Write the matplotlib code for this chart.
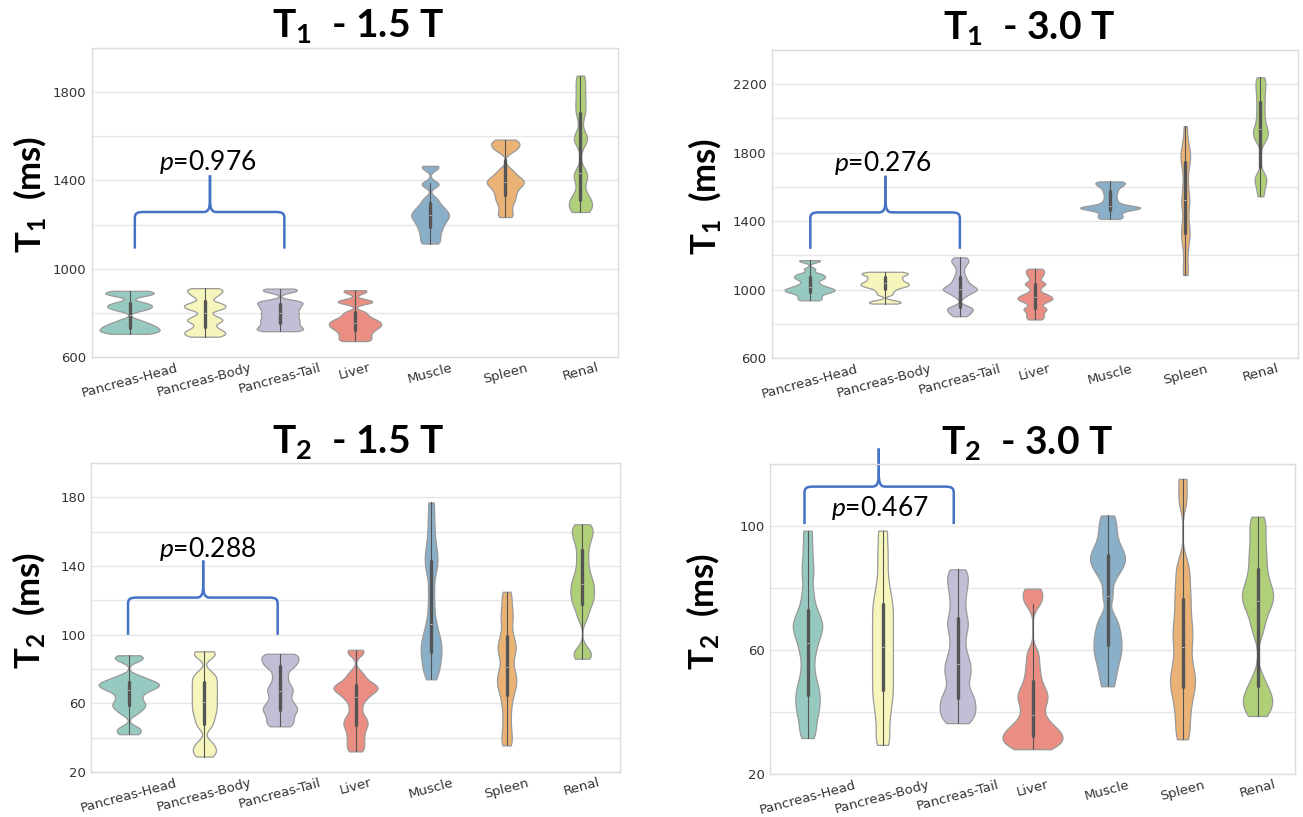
import numpy as np
import pandas as pd
import matplotlib
matplotlib.use("Agg")
import matplotlib.pyplot as plt
import seaborn as sns
from matplotlib.path import Path
from matplotlib.patches import PathPatch

categories = ["Pancreas-Head", "Pancreas-Body", "Pancreas-Tail", "Liver", "Muscle", "Spleen", "Renal"]

# ---- T1 at 1.5 T (ms)
t1_15_head = [705, 710, 715, 720, 725, 730, 736, 742, 748, 756, 768, 812, 820, 827, 833, 840, 848, 878, 884, 890, 895, 900]
t1_15_body = [692, 700, 708, 716, 725, 740, 758, 766, 774, 788, 814, 822, 830, 838, 846, 870, 884, 895, 904, 912]
t1_15_tail = [717, 722, 728, 735, 742, 750, 758, 766, 773, 782, 790, 798, 806, 815, 822, 830, 837, 844, 850, 856, 895, 903, 910]
t1_15_liver = [672, 680, 690, 700, 710, 719, 727, 734, 740, 746, 752, 758, 764, 771, 780, 792, 805, 845, 851, 857, 893, 903]
t1_15_muscle = [1114, 1128, 1145, 1160, 1175, 1188, 1200, 1211, 1221, 1230, 1238, 1246, 1254, 1263, 1273, 1285, 1300, 1320, 1378, 1388, 1455, 1466]
t1_15_spleen = [1234, 1252, 1275, 1298, 1313, 1328, 1343, 1356, 1368, 1378, 1386, 1393, 1400, 1408, 1418, 1432, 1450, 1532, 1545, 1556, 1566, 1576, 1585]
t1_15_renal = [1257, 1268, 1280, 1292, 1305, 1322, 1345, 1410, 1422, 1434, 1578, 1590, 1602, 1690, 1725, 1760, 1800, 1840, 1875]

# ---- T1 at 3.0 T (ms)
t1_30_head = [937, 947, 958, 970, 980, 986, 991, 996, 1001, 1006, 1012, 1020, 1030, 1045, 1060, 1068, 1076, 1085, 1094, 1120, 1165, 1172]
t1_30_body = [918, 926, 934, 972, 990, 1005, 1015, 1021, 1027, 1033, 1039, 1045, 1054, 1062, 1070, 1080, 1087, 1093, 1099, 1104]
t1_30_tail = [844, 856, 868, 878, 886, 893, 900, 960, 975, 988, 994, 999, 1004, 1010, 1018, 1028, 1040, 1055, 1072, 1095, 1125, 1150, 1162, 1175, 1188]
t1_30_liver = [825, 838, 851, 865, 880, 887, 894, 915, 930, 937, 943, 949, 955, 962, 970, 980, 1005, 1026, 1034, 1042, 1068, 1084, 1098, 1110, 1122]
t1_30_muscle = [1413, 1422, 1432, 1443, 1455, 1464, 1470, 1474, 1477, 1480, 1483, 1487, 1495, 1508, 1525, 1545, 1565, 1582, 1598, 1608, 1618, 1626, 1632]
t1_30_spleen = [1085, 1125, 1180, 1235, 1275, 1305, 1330, 1355, 1385, 1425, 1465, 1500, 1525, 1550, 1590, 1630, 1680, 1720, 1748, 1770, 1792, 1815, 1845, 1890, 1955]
t1_30_renal = [1545, 1590, 1630, 1648, 1666, 1870, 1892, 1910, 1928, 1950, 1985, 2025, 2065, 2105, 2145, 2180, 2212, 2240]

# ---- T2 at 1.5 T (ms)
t2_15_head = [42, 44, 46, 54, 56.5, 58, 59.5, 61, 63, 65, 67, 68, 69, 70, 70.7, 71.4, 72.2, 73, 74.5, 76, 85, 86.5, 88]
t2_15_body = [29, 31, 33, 35, 37.5, 46, 49, 51.5, 54, 56, 58, 60, 62, 64, 66, 68, 70, 72, 74, 76, 78, 87.5, 89, 90.3]
t2_15_tail = [46.6, 48.5, 50.5, 52.5, 54.5, 56, 57.5, 59, 61, 63.5, 66, 68, 70, 73, 76.5, 80, 82, 83.5, 85, 86.5, 88, 88.9]
t2_15_liver = [32, 35, 38, 41, 44, 46.5, 48.5, 50.5, 53, 57, 61, 63.5, 65.5, 67, 68, 69, 70, 71, 72.5, 75, 78, 89, 91.2]
t2_15_muscle = [74, 78, 81, 84, 87, 89.5, 92, 94.5, 97, 100, 104, 109, 117, 126, 135, 140, 144, 148, 153, 160, 168, 177]
t2_15_spleen = [35.5, 40, 45, 51, 57, 62, 66, 69, 71.5, 74, 76.5, 79, 83, 87, 90, 92.5, 95, 98, 102, 107, 111, 115, 120, 125]
t2_15_renal = [86, 88.5, 91, 110, 115, 118.5, 121, 123.5, 126, 128.5, 131, 134, 138, 143, 148, 153, 156.5, 159.5, 162, 164.3]

# ---- T2 at 3.0 T (ms)
t2_30_head = [31.6, 34.5, 37.5, 40, 42, 44, 46, 48, 50.5, 54, 58, 61, 63.5, 65.5, 67, 68.5, 70, 72, 75, 79, 84, 88, 93, 98.5]
t2_30_body = [29.4, 33, 37, 40.5, 43.5, 46, 48.5, 51, 53.5, 56, 58.5, 61, 63.5, 66, 68.5, 71, 73.5, 76, 79, 83, 88, 93, 98.5]
t2_30_tail = [36.4, 38, 39.5, 41, 42.5, 44, 45.5, 47.5, 50.5, 52.5, 54.5, 56.5, 59, 62.5, 66, 68.5, 71, 74.5, 78, 81, 83.5, 86]
t2_30_liver = [28, 28.8, 29.6, 30.4, 31.2, 32, 32.8, 33.6, 34.5, 35.5, 37, 39, 41.5, 43.5, 45, 46.5, 48.5, 51.5, 55, 59, 75, 77.5, 79.8]
t2_30_muscle = [48.3, 52, 55, 57.5, 59.5, 61.5, 63.5, 65.5, 68, 70.5, 77.5, 83, 86, 87.5, 89, 90.5, 92, 94, 97, 100, 103.4]
t2_30_spleen = [31.2, 35, 39, 42.5, 45.5, 48, 50, 52, 54.5, 57.5, 61, 64, 66.5, 69.5, 73, 76.5, 80, 84, 88, 108.5, 115.2]
t2_30_renal = [38.7, 40.5, 42.5, 44, 45.5, 47.5, 51, 66, 70, 73, 75, 76.5, 78, 79.5, 81.5, 84, 87, 90, 93, 96.5, 100, 103]

titles_sub = ["1", "1", "2", "2"]
titles_field = ["1.5 T", "3.0 T", "1.5 T", "3.0 T"]
p_values = ["0.976", "0.276", "0.288", "0.467"]

sns.set_theme(style="whitegrid")
TFONT = "Lato"
plt.rcParams["font.family"] = ["DejaVu Sans"]
plt.rcParams["mathtext.fontset"] = "custom"
plt.rcParams["mathtext.rm"] = TFONT
plt.rcParams["mathtext.bf"] = TFONT + ":bold"
plt.rcParams["mathtext.it"] = TFONT + ":italic"

W, H = 1303, 817
fig = plt.figure(figsize=(W / 100, H / 100), dpi=100)
fig.patch.set_facecolor("white")


def box(l, r, t, b):
    return [l / W, 1 - b / H, (r - l) / W, (b - t) / H]


panels = [
    dict(series=[t1_15_head, t1_15_body, t1_15_tail, t1_15_liver, t1_15_muscle, t1_15_spleen, t1_15_renal],
         rect=box(92, 618, 48, 357), ylim=(600, 2000), major=400, minor=200,
         brace=(0.07, 2.06, 1.07, 1091, 1257, 1423), ptxt=(1.04, 1445),
         title=(0.506, 0.0355), lab=(-0.084, 0.526)),
    dict(series=[t1_30_head, t1_30_body, t1_30_tail, t1_30_liver, t1_30_muscle, t1_30_spleen, t1_30_renal],
         rect=box(772, 1298, 50, 358), ylim=(600, 2400), major=400, minor=200,
         brace=(0.01, 2.0, 1.01, 1238, 1451, 1665), ptxt=(0.98, 1694),
         title=(0.489, 0.0355), lab=(-0.093, 0.526)),
    dict(series=[t2_15_head, t2_15_body, t2_15_tail, t2_15_liver, t2_15_muscle, t2_15_spleen, t2_15_renal],
         rect=box(91, 620, 463, 772), ylim=(20, 200), major=40, minor=20,
         brace=(-0.01, 1.97, 0.985, 99.9, 121.6, 143.2), ptxt=(1.05, 145.5),
         title=(0.505, 0.032), lab=(-0.084, 0.524)),
    dict(series=[t2_30_head, t2_30_body, t2_30_tail, t2_30_liver, t2_30_muscle, t2_30_spleen, t2_30_renal],
         rect=box(770, 1295, 464, 774), ylim=(20, 120), major=40, minor=20,
         brace=(-0.04, 1.95, 0.95, 100.6, 112.7, 125.0), ptxt=(0.96, 103.3),
         title=(0.49, 0.032), lab=(-0.093, 0.524)),
]

BRACE_COLOR = "#4472C4"


def draw_brace(ax, x0, x1, xm, yb, ybar, ytip):
    rx = 0.12
    ry = (ybar - yb) * 0.18
    cx = 0.09
    ym = ybar + (ytip - ybar) * 0.35
    for side in (-1, 1):
        xe = x0 if side < 0 else x1
        verts = [
            (xe, yb),
            (xe, ybar - ry),
            (xe, ybar - ry * 0.2), (xe - side * rx * 0.2, ybar), (xe - side * rx, ybar),
            (xm + side * cx, ybar),
            (xm + side * cx * 0.2, ybar), (xm, ybar + (ytip - ybar) * 0.1), (xm, ym),
            (xm, ytip),
        ]
        codes = [Path.MOVETO, Path.LINETO,
                 Path.CURVE4, Path.CURVE4, Path.CURVE4,
                 Path.LINETO,
                 Path.CURVE4, Path.CURVE4, Path.CURVE4,
                 Path.LINETO]
        ax.add_patch(PathPatch(Path(verts, codes), fill=False, edgecolor=BRACE_COLOR,
                               lw=1.8, clip_on=False, capstyle="butt", joinstyle="round"))


for i, p in enumerate(panels):
    ax = fig.add_axes(p["rect"])
    df = pd.DataFrame({
        "cat": np.concatenate([[c] * len(s) for c, s in zip(categories, p["series"])]),
        "val": np.concatenate([np.asarray(s, dtype=float) for s in p["series"]]),
    })
    sns.violinplot(data=df, x="cat", y="val", hue="cat", order=categories, hue_order=categories,
                   palette="Set3", saturation=0.75, cut=0, inner="box", bw_adjust=0.27,
                   density_norm="area", common_norm=True, linewidth=0.9, linecolor="#999999",
                   legend=False, inner_kws=dict(box_width=2.4, whis_width=0.8, color="#555555"), ax=ax)
    lo, hi = p["ylim"]
    ax.set_ylim(lo, hi)
    ax.set_xlim(-0.5, 6.5)
    ax.set_yticks(np.arange(lo, hi + 1, p["major"]))
    ax.set_yticks(np.arange(lo, hi + 1, p["minor"]), minor=True)
    ax.grid(True, which="both", axis="y", color="#e6e6e6", lw=1.0)
    ax.grid(False, axis="x")
    ax.set_axisbelow(True)
    ax.tick_params(which="both", length=0)
    ax.tick_params(axis="y", labelsize=9.5, labelcolor="#333333", pad=4)
    ax.tick_params(axis="x", labelsize=9.5, labelcolor="#333333", pad=3)
    ax.set_xticks(range(len(categories)))
    ax.set_xticklabels(categories, rotation=15, ha="center")
    for sp in ax.spines.values():
        sp.set_color("#dcdcdc")
        sp.set_linewidth(1.0)
    ax.set_xlabel("")
    ax.set_ylabel(r"T$_\mathbf{" + titles_sub[i] + r"}$  (ms)", fontsize=25, fontweight="bold",
                  family=TFONT, color="black")
    ax.yaxis.set_label_coords(*p["lab"])
    tx, toff = p["title"]
    ax.text(tx, 1 + toff, r"T$_\mathbf{" + titles_sub[i] + r"}$  - " + titles_field[i],
            transform=ax.transAxes, ha="center", va="baseline", fontsize=28,
            fontweight="bold", family=TFONT, color="black")
    draw_brace(ax, *p["brace"])
    ax.text(p["ptxt"][0], p["ptxt"][1], r"$p$=" + p_values[i], ha="center", va="baseline",
            fontsize=19, family=TFONT, color="black")

fig.savefig("out.png", dpi=100, facecolor="white")
